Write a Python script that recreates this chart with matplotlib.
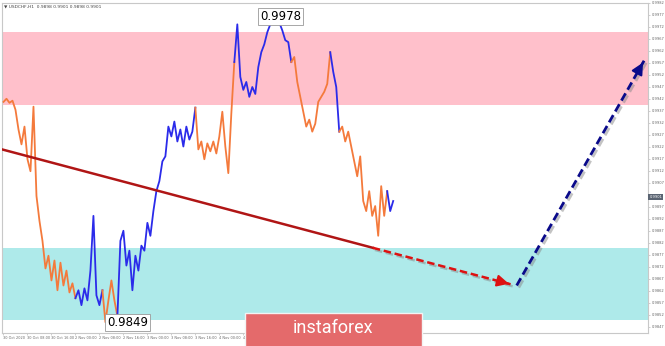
import matplotlib
matplotlib.use("Agg")
import matplotlib.pyplot as plt
import matplotlib.patheffects as pe
from matplotlib.patches import FancyBboxPatch

# USDCHF H1 closes (one value per bar)
closes = [
    0.99408, 0.99421, 0.99404, 0.99413, 0.99375, 0.99293, 0.99231, 0.99305, 0.99169, 0.99119,
    0.99388, 0.99016, 0.98912, 0.98829, 0.98714, 0.98767, 0.98664, 0.98747, 0.98623, 0.98738,
    0.98643, 0.98705, 0.98614, 0.98652, 0.98590, 0.98623, 0.98561, 0.98631, 0.98581, 0.98705,
    0.98933, 0.98602, 0.98561, 0.98623, 0.98490, 0.98581, 0.98664, 0.98581, 0.98515, 0.98829,
    0.98871, 0.98726, 0.98788, 0.98623, 0.98767, 0.98705, 0.98809, 0.98788, 0.98904, 0.98850,
    0.98953, 0.99036, 0.99078, 0.99160, 0.99181, 0.99305, 0.99264, 0.99326, 0.99243, 0.99293,
    0.99222, 0.99305, 0.99251, 0.99284, 0.99384, 0.99210, 0.99243, 0.99169, 0.99235, 0.99202,
    0.99243, 0.99193, 0.99264, 0.99367, 0.99222, 0.99111, 0.99359, 0.99574, 0.99731, 0.99512,
    0.99458, 0.99491, 0.99429, 0.99470, 0.99441, 0.99553, 0.99615, 0.99648, 0.99698, 0.99731,
    0.99760, 0.99780, 0.99739, 0.99706, 0.99665, 0.99657, 0.99574, 0.99595, 0.99491, 0.99429,
    0.99367, 0.99305, 0.99334, 0.99284, 0.99317, 0.99408, 0.99429, 0.99450, 0.99483, 0.99615,
    0.99533, 0.99470, 0.99284, 0.99305, 0.99243, 0.99284, 0.99222, 0.99160, 0.99098, 0.99181,
    0.98995, 0.98953, 0.99036, 0.98933, 0.98974, 0.98850, 0.99057, 0.98933, 0.99036, 0.98953,
    0.98995,
]
# wave colouring: (first bar, last bar, colour)
segments = [
    (0, 24, "#f47a3c"), (24, 33, "#2b2bea"), (33, 38, "#f47a3c"), (38, 64, "#2b2bea"),
    (64, 77, "#f47a3c"), (77, 96, "#2b2bea"), (96, 109, "#f47a3c"), (109, 112, "#2b2bea"),
    (112, 128, "#f47a3c"), (128, 130, "#2b2bea"),
]

resistance_zone = (0.99395, 0.99700)
support_zone = (0.98500, 0.98800)

trend_x = [-0.5, 123.2]
trend_y = [0.99210, 0.98800]
down_x = [123.2, 169.5]
down_y = [0.98800, 0.98647]
up_x = [171.2, 213.8]
up_y = [0.98643, 0.99582]

high_label, low_label = "0.9978", "0.9849"
last_price = 0.9901
x_labels = ["30 Oct 2020", "30 Oct 08:00", "30 Oct 16:00", "2 Nov 00:00", "2 Nov 08:00",
            "2 Nov 16:00", "3 Nov 00:00", "3 Nov 08:00", "3 Nov 16:00", "4 Nov 00:00",
            "4 Nov 08:00", "4 Nov 16:00", "5 Nov 00:00", "5 Nov 08:00", "5 Nov 16:00",
            "6 Nov 00:00", "6 Nov 08:00"]
y_ticks = [0.9847 + 0.0005 * k for k in range(28)]

fig = plt.figure(figsize=(6.65, 3.46), dpi=100)
ax = fig.add_axes([2 / 665, 13 / 346, 646 / 665, 330 / 346])
ax.set_xlim(-0.5, 215)
ax.set_ylim(0.98445, 0.99810)

ax.axhspan(*resistance_zone, color="#ffc0cb", lw=0, zorder=0)
ax.axhspan(*support_zone, color="#aeeaea", lw=0, zorder=0)

for s, e, c in segments:
    xs = list(range(s, e + 1))
    ax.plot(xs, closes[s:e + 1], color=c, lw=1.3, zorder=3)

shadow = [pe.SimpleLineShadow(offset=(1.5, -1.5), shadow_color="#888888", alpha=0.5), pe.Normal()]
ax.plot(trend_x, trend_y, color="#b01515", lw=1.8, zorder=4)
ax.plot(down_x, down_y, color="#dd1111", lw=1.8, ls=(0, (3, 1.5)), zorder=4, path_effects=shadow)
ax.annotate("", xy=(down_x[1], down_y[1]),
            xytext=(down_x[1] - 2, down_y[1] + 0.0000663),
            arrowprops=dict(arrowstyle="-|>,head_length=0.7,head_width=0.35",
                            color="#dd1111", lw=1.5), zorder=5)
ax.plot(up_x, up_y, color="#0a0a8a", lw=2.0, ls=(0, (3, 1.5)), zorder=4, path_effects=shadow)
ax.annotate("", xy=(up_x[1], up_y[1]),
            xytext=(up_x[1] - 1, up_y[1] - 0.00022),
            arrowprops=dict(arrowstyle="-|>,head_length=0.7,head_width=0.35",
                            color="#0a0a8a", lw=1.5), zorder=5)

box = dict(boxstyle="square,pad=0.15", fc="white", ec="#999999", lw=0.6)
ax.text(85.6, 0.99764, high_label, fontsize=8.5, ha="left", va="center", bbox=box, zorder=6)
ax.text(34.5, 0.98488, low_label, fontsize=8.5, ha="left", va="center", bbox=box, zorder=6)

# the current-price box sits where one tick label would be
ax.yaxis.tick_right()
ax.set_yticks(y_ticks)
ax.set_yticklabels(["" if abs(v - last_price) < 0.0003 else f"{v:.4f}" for v in y_ticks],
                   fontsize=2.6, color="#666666")
ax.set_xticks([8 * k for k in range(len(x_labels))])
ax.set_xticklabels(x_labels, fontsize=2.5, color="#666666", ha="left")
ax.tick_params(length=1.5, width=0.4, color="#aaaaaa", pad=1)
for sp in ax.spines.values():
    sp.set_color("#c8c8c8")
    sp.set_linewidth(0.8)

ax.text(1.002, last_price, f"{last_price:.4f}", transform=ax.get_yaxis_transform(), fontsize=2.6,
        color="white", va="center", ha="left",
        bbox=dict(boxstyle="square,pad=0.3", fc="#5a6472", ec="none"))
fig.text(0.006, 0.978, "\u25bc USDCHF,H1  0.9898 0.9901 0.9898 0.9901", fontsize=3.2, color="#444444")

wm = FancyBboxPatch((245 / 665, -0.02), 177 / 665, 33 / 346 + 0.02,
                    boxstyle="square,pad=0", transform=fig.transFigure,
                    fc="#e46a6b", ec="#f3f3f3", lw=1.0, zorder=10)
fig.patches.append(wm)
fig.text(333 / 665, 18 / 346, "instaforex", fontsize=13, family="Roboto", color="white",
         ha="center", va="center", zorder=11)

fig.savefig("out.png", dpi=100)
